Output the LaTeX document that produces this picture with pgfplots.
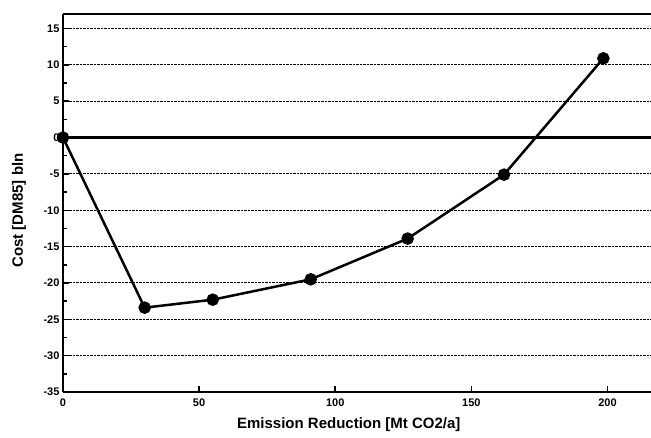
\documentclass[border=0pt]{standalone}
\usepackage{fontspec}
\setmainfont{Liberation Sans}
\usepackage{pgfplots}
\pgfplotsset{compat=1.18}

\begin{document}
\begin{tikzpicture}
\begin{axis}[
  scale only axis,
  width=588pt, height=378pt,
  xmin=0, xmax=216,
  ymin=-35, ymax=17,
  axis x line=box, axis y line=left,
  axis line style={line width=2.2pt, -},
  xtick={0,50,100,150,200},
  ytick={-35,-30,...,15},
  minor y tick num=1,
  xtick pos=bottom, ytick pos=left,
  tick align=inside,
  major tick length=6pt, minor tick length=4pt,
  tick style={line width=1.5pt, black},
  /pgf/number format/assume math mode=true,
  ticklabel style={font=\bfseries\fontsize{11}{13}\selectfont},
  xticklabel style={yshift=-3pt},
  ymajorgrids,
  major grid style={densely dotted, line width=1pt, black},
  extra y ticks={0}, extra y tick labels={},
  extra y tick style={grid=major, major grid style={solid, line width=2.2pt, black}, major tick length=0pt},
  xlabel={Emission Reduction [Mt CO2/a]},
  ylabel={Cost [DM85] bln},
  label style={font=\bfseries\fontsize{15}{18}\selectfont},
  xlabel style={at={(axis description cs:0.486,0)}, anchor=center, yshift=-33pt},
  ylabel style={at={(axis description cs:0,0.48)}, anchor=center, yshift=44pt},
  clip=false,
]
\addplot[black, line width=2.5pt, mark=*, mark size=5pt] coordinates {
  (0,0) (30,-23.4) (55,-22.3) (91,-19.5) (126.6,-13.9) (162,-5.1) (198.5,10.9)
};
\end{axis}
\pgfresetboundingbox
\path ([xshift=-63pt,yshift=-46pt]current axis.south west) rectangle ([yshift=14pt]current axis.north east);
\end{tikzpicture}
\end{document}
